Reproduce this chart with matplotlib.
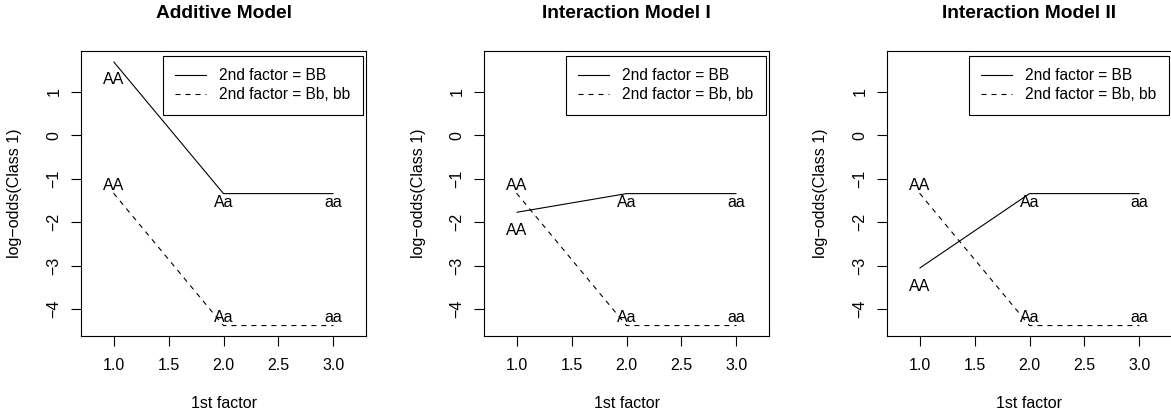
import matplotlib
matplotlib.use("Agg")
import matplotlib.pyplot as plt
from matplotlib.lines import Line2D

plt.rcParams['font.family'] = ['Liberation Sans', 'DejaVu Sans']
plt.rcParams['lines.scale_dashes'] = False

# ---- data ----
titles = ["Additive Model", "Interaction Model I", "Interaction Model II"]
x_levels = [1, 2, 3]
genotype_labels = ["AA", "Aa", "aa"]
solid_BB = [
    [1.69, -1.345, -1.345],
    [-1.775, -1.345, -1.345],
    [-3.06, -1.345, -1.345],
]
dashed_Bb_bb = [
    [-1.335, -4.38, -4.38],
    [-1.335, -4.38, -4.38],
    [-1.335, -4.38, -4.38],
]
# vertical offsets of genotype text labels relative to line values
solid_label_offsets = [-0.42, -0.215, -0.215]
dashed_label_offsets = [0.175, 0.19, 0.19]
legend_labels = ["2nd factor = BB", "2nd factor = Bb, bb"]
x_ticks = [1.0, 1.5, 2.0, 2.5, 3.0]
y_ticks = [-4, -3, -2, -1, 0, 1]
x_label = "1st factor"
y_label = "log\u2212odds(Class 1)"

# ---- layout ----
W, H = 1171, 417
fig = plt.figure(figsize=(W / 100, H / 100), dpi=100)
lefts_px = [81, 484, 887]
ax_w_px, top_px, bot_px = 285, 51, 336
ax_h_px = bot_px - top_px
fs = 11.5
lw = 0.8
dash = (0, (3.6, 3.6))

for i in range(3):
    ax = fig.add_axes([lefts_px[i] / W, (H - bot_px) / H, ax_w_px / W, ax_h_px / H])
    ax.plot(x_levels, solid_BB[i], color='black', lw=lw, solid_capstyle='butt')
    ax.plot(x_levels, dashed_Bb_bb[i], color='black', lw=lw, linestyle=dash)
    for xv, yv, off, lab in zip(x_levels, solid_BB[i], solid_label_offsets, genotype_labels):
        ax.text(xv, yv + off, lab, ha='center', va='center', fontsize=fs)
    for xv, yv, off, lab in zip(x_levels, dashed_Bb_bb[i], dashed_label_offsets, genotype_labels):
        ax.text(xv, yv + off, lab, ha='center', va='center', fontsize=fs)
    ax.set_xlim(0.704, 3.296)
    ax.set_ylim(-4.62, 1.935)
    ax.set_xticks(x_ticks)
    ax.set_xticklabels([f"{t:.1f}" for t in x_ticks], fontsize=fs)
    ax.set_yticks(y_ticks)
    ax.set_yticklabels([str(t).replace('-', '\u2212') for t in y_ticks], fontsize=fs,
                       rotation=90, va='center')
    ax.tick_params(axis='both', length=7, width=0.8, color='black')
    ax.tick_params(axis='x', pad=9)
    ax.tick_params(axis='y', pad=7)
    for s in ax.spines.values():
        s.set_linewidth(0.8)
        s.set_color('black')
    cx = (lefts_px[i] + ax_w_px / 2) / W
    fig.text(cx, 1 - 13.5 / H, titles[i], fontsize=13.8, fontweight='bold',
             ha='center', va='center')
    ax.set_xlabel(x_label, fontsize=fs)
    ax.xaxis.set_label_coords(0.5, -(403 - bot_px) / ax_h_px)
    ax.xaxis.label.set_va('center')
    ax.set_ylabel(y_label, fontsize=fs)
    ax.yaxis.set_label_coords(-(lefts_px[0] - 15) / ax_w_px, 0.5)
    ax.yaxis.label.set_va('center')
    handles = [Line2D([], [], color='black', lw=lw),
               Line2D([], [], color='black', lw=lw, linestyle=dash)]
    leg = ax.legend(handles, legend_labels, loc='upper right',
                    bbox_to_anchor=(1 - 3.5 / ax_w_px, 1 - 5 / ax_h_px),
                    borderaxespad=0, fancybox=False, edgecolor='black', framealpha=1,
                    fontsize=11.2, handlelength=1.95, handletextpad=0.85,
                    borderpad=0.8, labelspacing=0.26)
    leg.get_frame().set_linewidth(0.8)

fig.savefig("out.png", dpi=100)
